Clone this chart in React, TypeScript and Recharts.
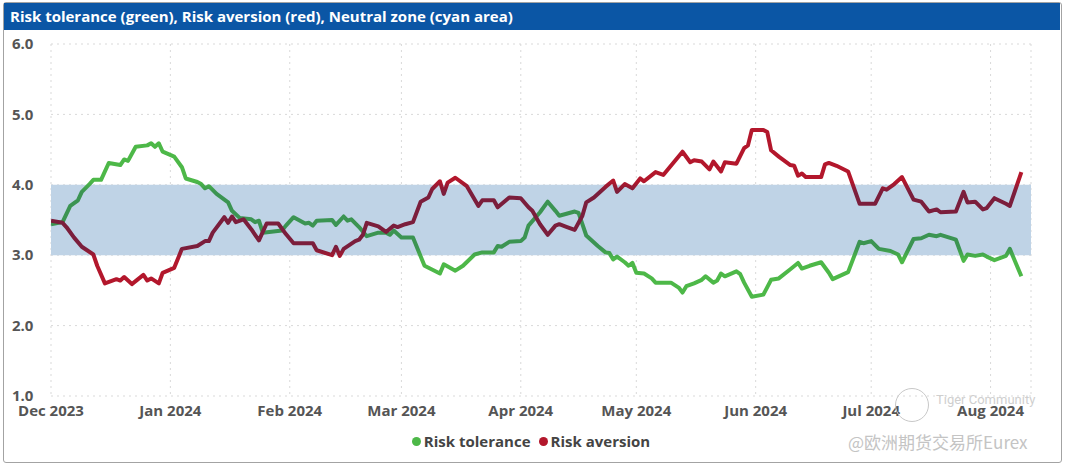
import { LineChart, Line, XAxis, YAxis, CartesianGrid, ReferenceArea } from 'recharts';

const START = '2023-12-01';

const monthTicks = ['2023-12-01', '2024-01-01', '2024-02-01', '2024-03-01', '2024-04-01', '2024-05-01', '2024-06-01', '2024-07-01', '2024-08-01'];
const monthLabels = ['Dec 2023', 'Jan 2024', 'Feb 2024', 'Mar 2024', 'Apr 2024', 'May 2024', 'Jun 2024', 'Jul 2024', 'Aug 2024'];
const yTicks = [1, 2, 3, 4, 5, 6];

// neutral zone band
const neutralLow = 3;
const neutralHigh = 4;

const toleranceDates = [
  '2023-12-01', '2023-12-04', '2023-12-06', '2023-12-08', '2023-12-09', '2023-12-11', '2023-12-12', '2023-12-14',
  '2023-12-16', '2023-12-19', '2023-12-20', '2023-12-21', '2023-12-23', '2023-12-26', '2023-12-27', '2023-12-28',
  '2023-12-29', '2023-12-30', '2024-01-02', '2024-01-04', '2024-01-05', '2024-01-08', '2024-01-09', '2024-01-10',
  '2024-01-11', '2024-01-13', '2024-01-16', '2024-01-17', '2024-01-19', '2024-01-22', '2024-01-23', '2024-01-24',
  '2024-01-25', '2024-01-30', '2024-01-31', '2024-02-02', '2024-02-05', '2024-02-06', '2024-02-07', '2024-02-08',
  '2024-02-12', '2024-02-13', '2024-02-15', '2024-02-16', '2024-02-17', '2024-02-19', '2024-02-21', '2024-02-24',
  '2024-02-26', '2024-02-27', '2024-02-28', '2024-03-01', '2024-03-04', '2024-03-07', '2024-03-11', '2024-03-12',
  '2024-03-15', '2024-03-17', '2024-03-20', '2024-03-22', '2024-03-25', '2024-03-26', '2024-03-27', '2024-03-29',
  '2024-04-01', '2024-04-02', '2024-04-03', '2024-04-06', '2024-04-08', '2024-04-10', '2024-04-11', '2024-04-15',
  '2024-04-16', '2024-04-17', '2024-04-18', '2024-04-21', '2024-04-23', '2024-04-24', '2024-04-25', '2024-04-26',
  '2024-04-28', '2024-04-29', '2024-04-30', '2024-05-01', '2024-05-03', '2024-05-05', '2024-05-06', '2024-05-10',
  '2024-05-12', '2024-05-13', '2024-05-14', '2024-05-16', '2024-05-18', '2024-05-19', '2024-05-21', '2024-05-22',
  '2024-05-23', '2024-05-24', '2024-05-27', '2024-05-28', '2024-05-29', '2024-05-31', '2024-06-03', '2024-06-05',
  '2024-06-07', '2024-06-10', '2024-06-12', '2024-06-13', '2024-06-15', '2024-06-18', '2024-06-20', '2024-06-21',
  '2024-06-25', '2024-06-28', '2024-06-29', '2024-07-01', '2024-07-03', '2024-07-06', '2024-07-08', '2024-07-09',
  '2024-07-12', '2024-07-14', '2024-07-16', '2024-07-18', '2024-07-19', '2024-07-23', '2024-07-25', '2024-07-26',
  '2024-07-28', '2024-07-30', '2024-07-31', '2024-08-02', '2024-08-05', '2024-08-06', '2024-08-09',
];
const toleranceValues = [
  3.44, 3.47, 3.70, 3.78, 3.90, 4.01, 4.07, 4.07,
  4.31, 4.28, 4.36, 4.34, 4.54, 4.56, 4.59, 4.54,
  4.59, 4.47, 4.40, 4.25, 4.09, 4.04, 4.01, 3.95,
  3.98, 3.87, 3.75, 3.63, 3.53, 3.51, 3.47, 3.49,
  3.32, 3.35, 3.42, 3.54, 3.45, 3.46, 3.42, 3.49,
  3.50, 3.43, 3.55, 3.49, 3.51, 3.40, 3.27, 3.32,
  3.32, 3.29, 3.35, 3.25, 3.25, 2.85, 2.74, 2.87,
  2.78, 2.85, 3.01, 3.04, 3.04, 3.13, 3.12, 3.19,
  3.20, 3.25, 3.42, 3.61, 3.76, 3.63, 3.56, 3.62,
  3.60, 3.44, 3.28, 3.13, 3.04, 3.03, 2.94, 2.98,
  2.90, 2.85, 2.89, 2.75, 2.74, 2.67, 2.61, 2.61,
  2.54, 2.47, 2.56, 2.60, 2.65, 2.70, 2.61, 2.64,
  2.74, 2.70, 2.77, 2.73, 2.61, 2.41, 2.44, 2.65,
  2.67, 2.80, 2.89, 2.81, 2.85, 2.90, 2.75, 2.66,
  2.76, 3.19, 3.17, 3.20, 3.09, 3.06, 3.01, 2.90,
  3.23, 3.24, 3.29, 3.27, 3.29, 3.22, 2.92, 3.01,
  2.99, 3.01, 2.98, 2.93, 2.99, 3.09, 2.70,
];

const aversionDates = [
  '2023-12-01', '2023-12-04', '2023-12-05', '2023-12-07', '2023-12-09', '2023-12-12', '2023-12-13', '2023-12-15',
  '2023-12-18', '2023-12-19', '2023-12-20', '2023-12-22', '2023-12-25', '2023-12-26', '2023-12-27', '2023-12-29',
  '2023-12-30', '2024-01-02', '2024-01-04', '2024-01-08', '2024-01-10', '2024-01-11', '2024-01-12', '2024-01-15',
  '2024-01-16', '2024-01-17', '2024-01-18', '2024-01-20', '2024-01-22', '2024-01-24', '2024-01-26', '2024-01-29',
  '2024-01-31', '2024-02-02', '2024-02-07', '2024-02-08', '2024-02-12', '2024-02-13', '2024-02-14', '2024-02-15',
  '2024-02-18', '2024-02-19', '2024-02-20', '2024-02-21', '2024-02-24', '2024-02-26', '2024-02-28', '2024-02-29',
  '2024-03-02', '2024-03-04', '2024-03-06', '2024-03-08', '2024-03-09', '2024-03-11', '2024-03-12', '2024-03-13',
  '2024-03-15', '2024-03-18', '2024-03-21', '2024-03-22', '2024-03-25', '2024-03-26', '2024-03-29', '2024-04-01',
  '2024-04-03', '2024-04-04', '2024-04-06', '2024-04-08', '2024-04-10', '2024-04-11', '2024-04-13', '2024-04-15',
  '2024-04-17', '2024-04-18', '2024-04-20', '2024-04-23', '2024-04-25', '2024-04-26', '2024-04-28', '2024-04-30',
  '2024-05-02', '2024-05-03', '2024-05-06', '2024-05-08', '2024-05-13', '2024-05-15', '2024-05-16', '2024-05-18',
  '2024-05-20', '2024-05-21', '2024-05-23', '2024-05-24', '2024-05-27', '2024-05-29', '2024-05-30', '2024-05-31',
  '2024-06-03', '2024-06-04', '2024-06-05', '2024-06-07', '2024-06-10', '2024-06-11', '2024-06-12', '2024-06-13',
  '2024-06-14', '2024-06-18', '2024-06-19', '2024-06-20', '2024-06-22', '2024-06-25', '2024-06-28', '2024-07-02',
  '2024-07-04', '2024-07-05', '2024-07-07', '2024-07-09', '2024-07-12', '2024-07-14', '2024-07-16', '2024-07-18',
  '2024-07-19', '2024-07-23', '2024-07-25', '2024-07-26', '2024-07-28', '2024-07-30', '2024-07-31', '2024-08-02',
  '2024-08-05', '2024-08-06', '2024-08-09',
];
const aversionValues = [
  3.49, 3.46, 3.40, 3.25, 3.12, 3.01, 2.85, 2.60,
  2.66, 2.64, 2.69, 2.59, 2.72, 2.64, 2.67, 2.60,
  2.75, 2.82, 3.09, 3.13, 3.20, 3.20, 3.32, 3.54,
  3.46, 3.55, 3.47, 3.51, 3.37, 3.21, 3.45, 3.45,
  3.30, 3.17, 3.17, 3.07, 3.00, 3.12, 2.99, 3.09,
  3.20, 3.22, 3.29, 3.46, 3.41, 3.33, 3.42, 3.40,
  3.44, 3.47, 3.76, 3.82, 3.94, 4.05, 3.87, 4.03,
  4.10, 3.98, 3.70, 3.78, 3.78, 3.68, 3.82, 3.81,
  3.68, 3.63, 3.44, 3.29, 3.42, 3.44, 3.40, 3.36,
  3.56, 3.75, 3.82, 3.97, 4.06, 3.90, 4.01, 3.95,
  4.09, 4.05, 4.18, 4.14, 4.47, 4.32, 4.35, 4.33,
  4.22, 4.33, 4.19, 4.32, 4.30, 4.52, 4.56, 4.78,
  4.78, 4.75, 4.49, 4.40, 4.28, 4.27, 4.13, 4.16,
  4.11, 4.11, 4.29, 4.31, 4.27, 4.19, 3.73, 3.73,
  3.95, 3.93, 4.01, 4.11, 3.79, 3.76, 3.62, 3.65,
  3.61, 3.62, 3.90, 3.75, 3.76, 3.65, 3.67, 3.81,
  3.73, 3.70, 4.18,
];

const DAY = 86400000;
const dayOf = (s: string) => (Date.parse(s) - Date.parse(START)) / DAY;

const toleranceData = toleranceDates.map((d, i) => ({ day: dayOf(d), value: toleranceValues[i] }));
const aversionData = aversionDates.map((d, i) => ({ day: dayOf(d), value: aversionValues[i] }));
const tickDays = monthTicks.map(dayOf);

const W = 1065;
const H = 465;
const PLOT_TOP = 44;
const PLOT_BOTTOM = 396;
const Y_MIN = 1;
const Y_MAX = 6;

const GREEN = '#4db848';
const GREEN_IN = '#3b9452';
const RED = '#b3172c';
const RED_IN = '#7b1e3c';
const FONT = '"Open Sans", "Noto Sans", sans-serif';

const bandStart = (Y_MAX - neutralHigh) / (Y_MAX - Y_MIN);
const bandEnd = (Y_MAX - neutralLow) / (Y_MAX - Y_MIN);

const YTick = ({ y, payload }: any) => (
  <text x={12} y={y} dy="0.35em" fill="#555" fontSize={15} fontWeight={700} fontFamily={FONT}>
    {payload.value.toFixed(1)}
  </text>
);

const XTick = ({ x, payload }: any) => {
  const idx = tickDays.indexOf(payload.value);
  return (
    <text x={x} y={PLOT_BOTTOM + 15} dy="0.35em" textAnchor="middle" fill="#555" fontSize={15} fontWeight={700} fontFamily={FONT}>
      {monthLabels[idx]}
    </text>
  );
};

const BandGradient = ({ id, outer, inner }: { id: string; outer: string; inner: string }) => (
  <linearGradient id={id} gradientUnits="userSpaceOnUse" x1={0} y1={PLOT_TOP} x2={0} y2={PLOT_BOTTOM}>
    <stop offset={0} stopColor={outer} />
    <stop offset={bandStart - 0.01} stopColor={outer} />
    <stop offset={bandStart + 0.02} stopColor={inner} />
    <stop offset={bandEnd - 0.02} stopColor={inner} />
    <stop offset={bandEnd + 0.01} stopColor={outer} />
    <stop offset={1} stopColor={outer} />
  </linearGradient>
);

const RiskChart = () => {
  return (
    <div style={{ position: 'absolute', left: 0, top: 0, width: W, height: H, background: '#fff', fontFamily: FONT }}>
      <div style={{ position: 'absolute', left: 3, top: 2, width: 1057, height: 459, border: '1px solid #a3a3a3', borderRadius: 3 }} />
      <div style={{ position: 'absolute', left: 4, top: 3, width: 1056, height: 27, background: '#0b56a5' }} />
      <div style={{ position: 'absolute', left: 10, top: 4, height: 25, lineHeight: '25px', color: '#fff', fontSize: 15, fontWeight: 700 }}>
        Risk tolerance (green), Risk aversion (red), Neutral zone (cyan area)
      </div>

      <div style={{ position: 'absolute', left: 0, top: 0 }}>
        <LineChart width={W} height={H} margin={{ top: PLOT_TOP, right: 34, bottom: 0, left: 0 }}>
          <defs>
            <BandGradient id="toleranceStroke" outer={GREEN} inner={GREEN_IN} />
            <BandGradient id="aversionStroke" outer={RED} inner={RED_IN} />
          </defs>
          <CartesianGrid stroke="#d9d9d9" strokeDasharray="2 4" />
          <XAxis
            type="number"
            dataKey="day"
            domain={[0, 'dataMax + 2.5']}
            ticks={tickDays}
            tick={<XTick />}
            height={H - PLOT_BOTTOM}
            axisLine={false}
            tickLine={false}
            allowDataOverflow
          />
          <YAxis
            type="number"
            domain={[Y_MIN, Y_MAX]}
            ticks={yTicks}
            tick={<YTick />}
            width={51}
            axisLine={false}
            tickLine={false}
          />
          <ReferenceArea y1={neutralLow} y2={neutralHigh} fill="#bfd3e6" fillOpacity={1} stroke="none" ifOverflow="hidden" />
          <Line
            data={toleranceData}
            dataKey="value"
            name="Risk tolerance"
            type="linear"
            stroke="url(#toleranceStroke)"
            strokeWidth={4}
            strokeLinejoin="round"
            dot={false}
            isAnimationActive={false}
          />
          <Line
            data={aversionData}
            dataKey="value"
            name="Risk aversion"
            type="linear"
            stroke="url(#aversionStroke)"
            strokeWidth={4}
            strokeLinejoin="round"
            dot={false}
            isAnimationActive={false}
          />
        </LineChart>
      </div>

      {/* legend */}
      <div style={{ position: 'absolute', left: 0, width: 1062, top: 431, display: 'flex', justifyContent: 'center', gap: 8, color: '#444', fontSize: 15, fontWeight: 700 }}>
        <span style={{ display: 'flex', alignItems: 'center', gap: 3 }}>
          <span style={{ width: 9, height: 9, borderRadius: '50%', background: GREEN, display: 'inline-block' }} />
          Risk tolerance
        </span>
        <span style={{ display: 'flex', alignItems: 'center', gap: 3 }}>
          <span style={{ width: 9, height: 9, borderRadius: '50%', background: RED, display: 'inline-block' }} />
          Risk aversion
        </span>
      </div>

      {/* watermark */}
      <div style={{ position: 'absolute', left: 895, top: 388, width: 32, height: 32, border: '1.5px solid #c8c8c8', borderRadius: '50%' }} />
      <div style={{ position: 'absolute', left: 936, top: 392, color: '#cfcfcf', fontSize: 13, fontFamily: 'Roboto, sans-serif' }}>Tiger Community</div>
      <div style={{ position: 'absolute', left: 848, top: 429, color: '#c4c4c4', fontSize: 17, fontFamily: '"Noto Sans CJK SC", sans-serif' }}>@欧洲期货交易所Eurex</div>
    </div>
  );
};

export default function App() {
  return <RiskChart />;
}
